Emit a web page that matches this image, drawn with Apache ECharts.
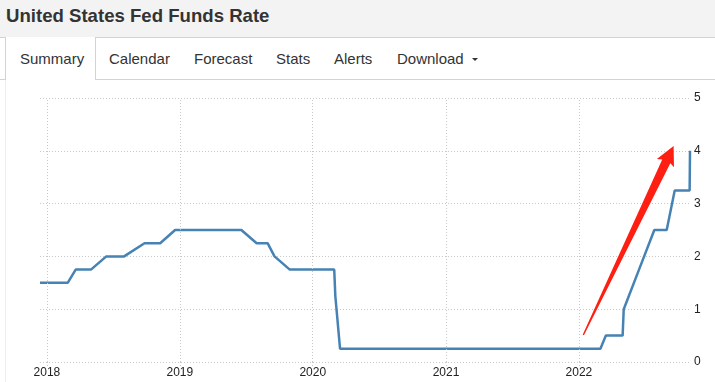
<!DOCTYPE html>
<html>
<head>
<meta charset="utf-8">
<script src="https://cdn.jsdelivr.net/npm/echarts@6/dist/echarts.min.js"></script>
<style>
  html, body { margin: 0; padding: 0; width: 715px; height: 382px; overflow: hidden; background: #fff; font-family: Arial, "Liberation Sans", sans-serif; }
  #header { position: absolute; left: 0; top: 0; width: 715px; height: 37px; background: #f3f3f3; border-bottom: 1px solid #d3d3d3; }
  #title { position: absolute; left: 6px; top: 7px; font-size: 18.6px; line-height: 18.6px; font-weight: bold; color: #333; white-space: nowrap; }
  #tabbar { position: absolute; left: 0; top: 38px; width: 715px; height: 41px; border-bottom: 1px solid #d3d3d3; }
  #activeTab { position: absolute; left: 5px; top: 37px; width: 89px; height: 43px; background: #fff; border-left: 1px solid #d3d3d3; border-right: 1px solid #d3d3d3; }
  .tab { position: absolute; top: 51px; font-size: 15px; line-height: 15px; color: #333; white-space: nowrap; }
  #caret { position: absolute; left: 472px; top: 58px; width: 0; height: 0; border-left: 3px solid transparent; border-right: 3px solid transparent; border-top: 3px solid #333; }
  #panelLine { position: absolute; left: 5px; top: 80px; width: 1px; height: 302px; background: #eeeeee; }
  #chart { position: absolute; left: 0; top: 0; width: 715px; height: 382px; }
</style>
</head>
<body>
<div id="header"><div id="title">United States Fed Funds Rate</div></div>
<div id="tabbar"></div>
<div id="activeTab"></div>
<div id="panelLine"></div>
<div class="tab" style="left:20px">Summary</div>
<div class="tab" style="left:109px">Calendar</div>
<div class="tab" style="left:194px">Forecast</div>
<div class="tab" style="left:276px">Stats</div>
<div class="tab" style="left:334px">Alerts</div>
<div class="tab" style="left:397px">Download</div>
<div id="caret"></div>
<div id="chart"></div>
<script>
// ---- data ----
var dates = [
  '2017-12-13','2018-02-27','2018-03-21','2018-05-02','2018-06-13','2018-08-01',
  '2018-09-26','2018-11-08','2018-12-19','2019-06-19','2019-07-31','2019-08-30',
  '2019-09-18','2019-10-30','2020-02-29','2020-03-03','2020-03-16','2022-03-01',
  '2022-03-16','2022-05-01','2022-05-04','2022-06-15','2022-07-27','2022-08-30',
  '2022-09-21','2022-11-01','2022-11-02'
];
var rates = [
  1.5, 1.5, 1.75, 1.75, 2.0, 2.0,
  2.25, 2.25, 2.5, 2.5, 2.25, 2.25,
  2.0, 1.75, 1.75, 1.25, 0.25, 0.25,
  0.5, 0.5, 1.0, 1.75, 2.5, 2.5,
  3.25, 3.25, 4.0
];
var yearTicks = ['2018-01-01','2019-01-01','2020-01-01','2021-01-01','2022-01-01'];
var yTicks = [0, 1, 2, 3, 4, 5];
var xStart = '2017-12-13';
var xEnd = '2022-11-02';
// annotation arrow (data coordinates: tail -> tip)
var arrowTail = ['2022-01-13', 0.51];
var arrowTip = ['2022-09-18', 4.09];

function ts(d) { return new Date(d + 'T00:00:00Z').getTime(); }

var chart = echarts.init(document.getElementById('chart'), null, { renderer: 'canvas' });
var seriesData = dates.map(function (d, i) { return [ts(d), rates[i]]; });
var yearVals = yearTicks.map(ts);

var gridColor = '#c8c8c8';
chart.setOption({
  animation: false,
  backgroundColor: 'transparent',
  grid: { left: 40, right: 25, top: 98, bottom: 20, containLabel: false },
  xAxis: {
    type: 'value',
    min: ts(xStart),
    max: ts(xEnd),
    axisLine: { show: false },
    axisTick: { show: true, length: 4, customValues: yearVals, lineStyle: { color: gridColor, type: [1, 2] } },
    axisLabel: {
      customValues: yearVals,
      formatter: function (v) { return String(new Date(v).getUTCFullYear()); },
      color: '#222', fontSize: 12, fontFamily: 'Arial, Liberation Sans', margin: 5
    },
    splitLine: { show: false }
  },
  yAxis: {
    type: 'value',
    position: 'right',
    min: yTicks[0],
    max: yTicks[yTicks.length - 1],
    interval: 1,
    axisLine: { show: false },
    axisTick: { show: false },
    axisLabel: { color: '#222', fontSize: 12, fontFamily: 'Arial, Liberation Sans', margin: 4 },
    splitLine: { show: true, lineStyle: { color: gridColor, type: [1, 2], width: 1 } }
  },
  series: [{
    type: 'line',
    data: seriesData,
    showSymbol: false,
    symbol: 'none',
    lineStyle: { color: '#4682b4', width: 2.5 },
    itemStyle: { color: '#4682b4' },
    markLine: {
      silent: true,
      symbol: ['none', 'none'],
      label: { show: false },
      lineStyle: { color: gridColor, type: [1, 2], width: 1 },
      data: yearVals.map(function (v) { return { xAxis: v }; })
    },
    z: 3
  }]
});

// Arrow annotation, positioned through the chart's coordinate system
function drawArrow() {
  var S = chart.convertToPixel({ gridIndex: 0 }, [ts(arrowTail[0]), arrowTail[1]]);
  var T = chart.convertToPixel({ gridIndex: 0 }, [ts(arrowTip[0]), arrowTip[1]]);
  var dx = T[0] - S[0], dy = T[1] - S[1];
  var L = Math.sqrt(dx * dx + dy * dy);
  var ux = dx / L, uy = dy / L;
  var nx = -uy, ny = ux;
  var headLen = 17, headHalf = 9.5, shaftHead = 4.5, shaftTail = 0.7;
  var Bx = T[0] - ux * headLen, By = T[1] - uy * headLen;
  var pts = [
    [S[0] + nx * shaftTail, S[1] + ny * shaftTail],
    [Bx + nx * shaftHead, By + ny * shaftHead],
    [Bx + nx * headHalf - ux * 2, By + ny * headHalf - uy * 2],
    [T[0], T[1]],
    [Bx - nx * headHalf - ux * 2, By - ny * headHalf - uy * 2],
    [Bx - nx * shaftHead, By - ny * shaftHead],
    [S[0] - nx * shaftTail, S[1] - ny * shaftTail]
  ];
  chart.setOption({
    graphic: [{
      type: 'polygon',
      shape: { points: pts },
      style: { fill: '#ff1f12' },
      z: 10
    }]
  });
}
drawArrow();
</script>
</body>
</html>
